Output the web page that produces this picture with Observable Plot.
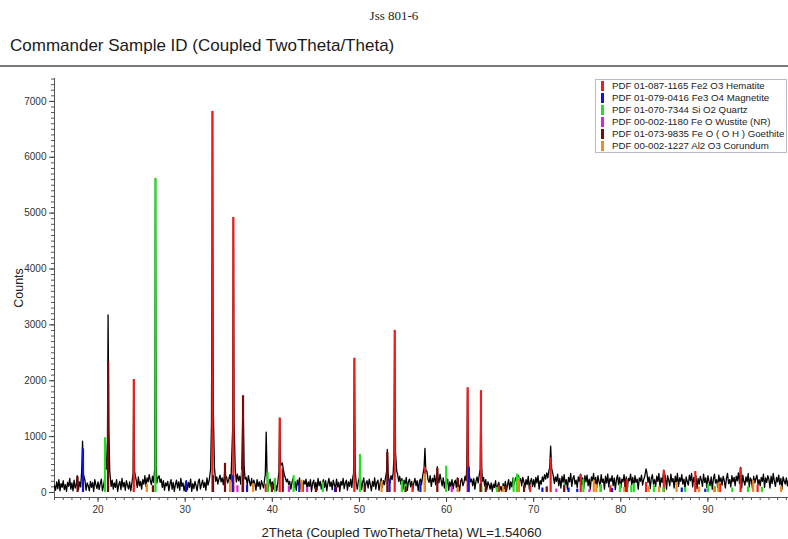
<!DOCTYPE html>
<html>
<head>
<meta charset="utf-8">
<script src="https://cdn.jsdelivr.net/npm/d3@7"></script>
<script src="https://cdn.jsdelivr.net/npm/@observablehq/plot@0.6"></script>
<style>
  html, body { margin: 0; padding: 0; background: #fff; }
  body { width: 788px; height: 539px; position: relative; overflow: hidden; font-family: Arial, "Liberation Sans", sans-serif; }
  #sample { position: absolute; top: 8px; left: 0; width: 788px; text-align: center; font-family: "Times New Roman", "Liberation Serif", serif; font-size: 13px; color: #222; }
  #title { position: absolute; top: 36px; left: 10px; font-size: 17px; color: #1a1a1a; white-space: nowrap; }
  #rule { position: absolute; top: 65px; left: 0; width: 788px; height: 2px; background: #7a7a7a; }
  #chart { position: absolute; top: 74px; left: 0; }
  #legend { position: absolute; left: 595px; top: 79px; width: 192px; height: 74px; border: 1px solid #b8bcc8; background: #fff; box-sizing: border-box; padding: 0 0 0 5px; overflow: visible; }
  .item { height: 12px; line-height: 12px; font-size: 9.7px; color: #222; white-space: nowrap; display: flex; align-items: center; }
  .swatch { display: inline-block; flex: 0 0 3px; width: 3px; height: 10px; margin-right: 8px; }
</style>
</head>
<body>
<div id="sample">Jss 801-6</div>
<div id="title">Commander Sample ID (Coupled TwoTheta/Theta)</div>
<div id="rule"></div>
<div id="chart"></div>
<div id="legend"></div>
<script>
// Measured scan: background counts every 0.125° from 15° to 99.25° 2θ (one row per degree)
const scanStart = 15;
const scanStep = 0.125;
const scanBackground = [
  120, 40, 190, 70, 230, 30, 160, 90,
  210, 50, 140, 20, 180, 110, 250, 60,
  170, 30, 220, 80, 130, 260, 50, 190,
  100, 240, 60, 150, 210, 40, 170, 120,
  30, 200, 90, 180, 20, 230, 140, 70,
  190, 50, 160, 240, 30, 120, 210, 80,
  150, 260, 40, 180, 110, 220, 60, 170,
  90, 230, 20, 140, 200, 50, 250, 100,
  180, 40, 210, 130, 60, 190, 30, 160,
  240, 70, 150, 220, 90, 280, 120, 200,
  60, 230, 150, 300, 110, 260, 190, 320,
  210, 140, 290, 180, 330, 230, 170, 260,
  300, 180, 240, 90, 210, 40, 170, 120,
  200, 30, 150, 230, 60, 180, 20, 140,
  220, 80, 190, 40, 250, 110, 170, 30,
  130, 210, 50, 180, 90, 240, 20, 160,
  70, 200, 120, 30, 190, 240, 60, 150,
  220, 90, 180, 40, 260, 130, 210, 300,
  160, 250, 120, 330, 200, 280, 150, 240,
  310, 190, 260, 140, 230, 90, 280, 170,
  230, 320, 200, 360, 170, 280, 240, 190,
  330, 210, 290, 150, 260, 310, 180, 240,
  270, 140, 300, 200, 120, 250, 90, 220,
  160, 40, 230, 110, 190, 60, 210, 140,
  80, 250, 130, 200, 30, 180, 240, 100,
  190, 60, 220, 140, 30, 170, 250, 90,
  280, 360, 230, 320, 260, 190, 240, 140,
  200, 60, 170, 250, 90, 190, 40, 220,
  130, 260, 70, 180, 30, 210, 150, 240,
  50, 190, 110, 230, 20, 160, 220, 80,
  180, 40, 250, 120, 200, 60, 170, 230,
  90, 210, 30, 160, 250, 110, 190, 50,
  220, 140, 60, 240, 100, 180, 20, 200,
  130, 250, 70, 170, 220, 40, 190, 110,
  240, 90, 280, 150, 310, 180, 60, 200,
  120, 230, 50, 190, 260, 30, 170, 210,
  80, 240, 140, 30, 200, 110, 260, 60,
  180, 220, 40, 160, 250, 90, 210, 140,
  270, 190, 320, 240, 160, 300, 230, 350,
  280, 380, 240, 330, 200, 290, 150, 250,
  60, 220, 130, 270, 40, 190, 240, 100,
  200, 50, 170, 250, 120, 210, 30, 180,
  240, 140, 290, 200, 340, 250, 380, 230,
  180, 300, 110, 250, 190, 310, 140, 220,
  280, 170, 330, 220, 120, 260, 80, 200,
  150, 240, 40, 190, 110, 230, 60, 170,
  220, 90, 260, 140, 30, 200, 250, 120,
  180, 290, 210, 330, 260, 300, 190, 240,
  120, 250, 60, 200, 280, 170, 310, 230,
  340, 200, 270, 120, 230, 50, 190, 140,
  60, 170, 20, 150, 90, 210, 30, 130,
  180, 40, 110, 20, 160, 70, 200, 30,
  140, 230, 60, 190, 100, 260, 150, 220,
  280, 160, 300, 210, 250, 120, 270, 190,
  90, 230, 140, 290, 60, 200, 250, 110,
  230, 100, 270, 170, 300, 60, 210, 150,
  280, 200, 320, 240, 350, 260, 390, 300,
  340, 250, 300, 160, 280, 200, 330, 120,
  250, 80, 290, 180, 320, 140, 230, 60,
  270, 190, 340, 110, 250, 300, 150, 220,
  90, 280, 200, 330, 130, 260, 70, 300,
  190, 310, 120, 240, 60, 280, 210, 340,
  150, 270, 90, 300, 200, 110, 320, 180,
  240, 60, 290, 170, 330, 100, 250, 200,
  300, 120, 260, 50, 230, 310, 140, 270,
  80, 240, 190, 320, 110, 280, 60, 250,
  210, 330, 140, 270, 90, 300, 180, 240,
  60, 260, 200, 310, 130, 230, 290, 100,
  350, 180, 280, 70, 250, 320, 150, 230,
  110, 290, 200, 340, 90, 260, 180, 310,
  140, 270, 60, 300, 220, 120, 330, 190,
  250, 80, 290, 170, 340, 110, 260, 200,
  320, 150, 240, 60, 280, 200, 130, 310,
  210, 340, 100, 270, 190, 300, 70, 250,
  150, 290, 220, 110, 330, 180, 260, 90,
  300, 200, 120, 280, 60, 240, 330, 170,
  230, 90, 310, 190, 260, 130, 290, 210,
  80, 250, 340, 160, 230, 100, 300, 190,
  270, 120, 290, 210, 350, 160, 240, 80,
  310, 200, 130, 280, 190, 340, 100, 260,
  220, 60, 290, 170, 250, 310, 140, 230,
  120, 270, 200, 330, 90, 260, 180, 300,
  240, 80, 290, 160, 340, 200, 110, 270,
  190, 310, 140, 250, 60, 280, 210, 150,
  260, 120, 230
];

// Measured scan: points through the diffraction peaks [2θ, counts]
const scanPeaks = [
  [17.6, 300], [17.68, 120],
  [18.12, 380], [18.22, 920], [18.32, 330],
  [20.78, 260], [20.85, 900], [20.95, 420],
  [21.07, 640], [21.15, 3180], [21.24, 1150], [21.34, 380],
  [24.02, 340], [24.1, 2020], [24.19, 380],
  [26.5, 420], [26.59, 5620], [26.68, 480],
  [32.92, 420], [33.02, 1250], [33.13, 6820], [33.23, 1450], [33.36, 440],
  [34.5, 300], [34.57, 520], [34.65, 260],
  [35.33, 560], [35.44, 1100], [35.53, 4920], [35.62, 1250], [35.74, 420],
  [36.5, 430], [36.64, 1730], [36.76, 480],
  [39.2, 330], [39.3, 1080], [39.4, 300],
  [40.76, 380], [40.85, 1330], [40.95, 480], [41.15, 530], [41.3, 380],
  [49.33, 340], [49.42, 2400], [49.52, 380],
  [50.0, 260], [50.06, 640], [50.12, 240],
  [53.12, 380], [53.2, 770], [53.3, 340],
  [53.96, 620], [54.05, 2900], [54.14, 720], [54.28, 380],
  [57.42, 440], [57.52, 790], [57.62, 400],
  [58.88, 300], [58.94, 460], [59.02, 250],
  [62.32, 460], [62.42, 1870], [62.52, 520],
  [63.86, 420], [63.95, 1820], [64.04, 430],
  [71.84, 440], [71.95, 830], [72.06, 430],
  [82.9, 420], [84.94, 400], [93.75, 450]
];

// Reference patterns: stick positions [2θ, counts] for each phase
const hematite = [
  [24.1, 2020], [33.13, 6820], [35.53, 4920], [39.25, 150], [40.85, 1330], [43.5, 140],
  [49.42, 2400], [54.05, 2900], [56.1, 120], [57.52, 450], [62.42, 1870], [63.95, 1820],
  [66.0, 120], [69.6, 120], [71.95, 620], [75.4, 320], [77.7, 130], [78.8, 120], [80.7, 230],
  [82.9, 180], [84.94, 390], [88.55, 375], [91.4, 160], [93.75, 435], [95.7, 130]
];
const magnetite = [
  [18.27, 780], [30.1, 200], [35.45, 300], [37.1, 130], [43.1, 180], [47.2, 80], [53.45, 230],
  [57.0, 170], [62.55, 450], [71.0, 80], [74.0, 80], [75.0, 60], [79.0, 70], [87.0, 80], [89.7, 60]
];
const quartz = [
  [20.8, 980], [26.59, 5620], [36.54, 400], [39.47, 350], [40.3, 250], [42.45, 300], [45.8, 180],
  [50.06, 680], [54.87, 200], [55.3, 150], [59.96, 470], [64.0, 120], [65.8, 90], [67.7, 250],
  [68.1, 330], [68.3, 280], [73.5, 150], [75.7, 230], [77.7, 140], [79.9, 150], [81.2, 120],
  [81.5, 160], [83.8, 130], [84.9, 80], [87.4, 90], [90.0, 140], [90.8, 110], [92.8, 80],
  [94.6, 100], [96.2, 90]
];
const wustite = [
  [36.0, 120], [41.9, 110], [44.0, 90], [60.6, 100], [72.6, 60], [76.4, 50]
];
const goethite = [
  [17.65, 280], [21.15, 2340], [26.3, 120], [33.2, 300], [34.57, 520], [36.64, 1730],
  [39.95, 150], [41.2, 420], [45.0, 80], [47.3, 90], [50.6, 120], [53.2, 716], [55.3, 100],
  [58.94, 430], [61.3, 250], [63.9, 150], [64.5, 120], [66.8, 110], [68.9, 120], [71.5, 100],
  [73.5, 120], [80.5, 200]
];
const corundum = [
  [25.6, 150], [35.15, 220], [37.8, 160], [43.35, 220], [52.55, 200], [57.5, 330], [61.3, 90],
  [66.5, 110], [68.2, 220], [76.9, 220], [77.2, 140], [80.4, 90], [83.2, 110], [84.4, 100],
  [86.4, 180], [88.99, 100], [90.7, 90], [91.2, 170], [95.2, 210], [98.4, 110]
];

const phaseNames = [
  "PDF 01-087-1165 Fe2 O3 Hematite",
  "PDF 01-079-0416 Fe3 O4 Magnetite",
  "PDF 01-070-7344 Si O2 Quartz",
  "PDF 00-002-1180 Fe O Wustite (NR)",
  "PDF 01-073-9835 Fe O ( O H ) Goethite",
  "PDF 00-002-1227 Al2 O3 Corundum"
];
const phaseColors = ["#f21b1b", "#1010e8", "#22e022", "#e020e0", "#7a0a0a", "#f08c1e"];
const phaseSticks = [hematite, magnetite, quartz, wustite, goethite, corundum];

const xMajorTicks = [20, 30, 40, 50, 60, 70, 80, 90];
const yMajorTicks = [0, 1000, 2000, 3000, 4000, 5000, 6000, 7000];

// Assemble the scan: background samples, leaving out those that fall inside a peak
const bgPoints = scanBackground
  .map((c, i) => [scanStart + i * scanStep, c])
  .filter(([x]) => !scanPeaks.some(([px]) => Math.abs(px - x) < 0.07));
const scan = bgPoints.concat(scanPeaks).sort((a, b) => a[0] - b[0]);

const font = 'Arial, "Liberation Sans", sans-serif';

const plot = Plot.plot({
  width: 788,
  height: 465,
  marginLeft: 54,
  marginRight: 0,
  marginTop: 4,
  marginBottom: 42,
  style: { fontFamily: font, fontSize: "10px", color: "#333", background: "transparent" },
  x: { domain: [15, 99.25] },
  y: { domain: [-90, 7410] },
  marks: [
    // minor ticks
    Plot.axisX({ ticks: d3.range(15, 100, 1), tickSize: 3, tickFormat: () => "", label: null, stroke: "#555" }),
    Plot.axisY({ ticks: d3.range(0, 7401, 100), tickSize: 3, tickFormat: () => "", label: null, stroke: "#555" }),
    // major ticks with labels
    Plot.axisX({
      ticks: xMajorTicks, tickSize: 5, tickPadding: 3, stroke: "#444", tickFormat: d3.format("d"),
      label: null
    }),
    Plot.axisY({
      ticks: yMajorTicks, tickSize: 5, tickPadding: 3, stroke: "#444", tickFormat: d3.format("d"),
      label: "Counts", labelAnchor: "center", labelArrow: "none", labelOffset: 40
    }),
    // x-axis title, centred a little left of the frame's middle
    Plot.text(["2Theta (Coupled TwoTheta/Theta) WL=1.54060"], {
      frameAnchor: "bottom", dy: 35, dx: -20, text: d => d, fontSize: 13.2, fill: "#222", lineAnchor: "middle"
    }),
    Plot.frame({ anchor: "left", stroke: "#555" }),
    Plot.frame({ anchor: "bottom", stroke: "#555" }),
    // measured scan
    Plot.line(scan, { x: d => d[0], y: d => d[1], stroke: "#000", strokeWidth: 1.3 }),
    // reference sticks
    ...phaseSticks.map((sticks, k) =>
      Plot.ruleX(sticks, { x: d => d[0], y1: 0, y2: d => d[1], stroke: phaseColors[k], strokeWidth: 2.2 })
    )
  ]
});
document.getElementById("chart").appendChild(plot);

// Enlarge the y-axis title
d3.select(plot).selectAll("[aria-label='y-axis label'] text")
  .style("font-size", "12.5px").style("fill", "#222");

// legend box
const legend = d3.select("#legend");
phaseNames.forEach((name, k) => {
  const row = legend.append("div").attr("class", "item");
  row.append("span").attr("class", "swatch").style("background", phaseColors[k]);
  row.append("span").text(name);
});
</script>
</body>
</html>
